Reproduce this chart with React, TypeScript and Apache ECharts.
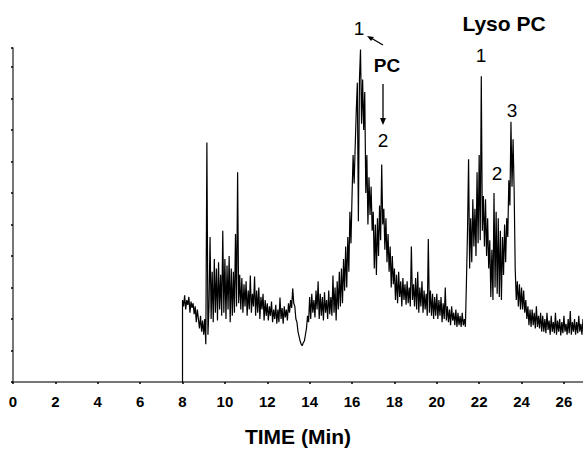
import React, { useEffect, useRef } from "react";
import * as echarts from "echarts";

// Chromatogram trace: intensity (arbitrary units) sampled every 0.05 min from 8.00 min
const TIME_START = 8.0;
const TIME_STEP = 0.05;
const INTENSITY: number[] = [
  // 8.00 - 8.45
  2.6, 2.4, 2.75, 2.3, 2.6, 2.45, 2.7, 2.2, 2.55, 2.35,
  // 8.50 - 8.95
  2.5, 2.15, 2.4, 1.9, 2.3, 2.0, 1.7, 2.1, 1.6, 1.95,
  // 9.00 - 9.45
  1.5, 2.0, 1.2, 7.6, 1.5, 2.4, 4.6, 2.0, 3.5, 1.9,
  // 9.50 - 9.95
  3.9, 2.2, 3.6, 1.95, 3.8, 2.3, 3.4, 2.1, 4.8, 2.2,
  // 10.00 - 10.45
  3.9, 2.0, 3.7, 2.3, 4.0, 1.9, 3.6, 2.1, 3.5, 2.2,
  // 10.50 - 10.95
  4.7, 2.4, 6.66, 2.5, 3.4, 2.3, 3.3, 2.2, 3.1, 2.4,
  // 11.00 - 11.45
  3.2, 2.1, 2.9, 2.3, 3.38, 2.2, 2.8, 2.4, 3.35, 2.1,
  // 11.50 - 11.95
  2.9, 2.2, 3.0, 2.0, 2.7, 2.3, 2.8, 1.95, 2.6, 2.1,
  // 12.00 - 12.45
  2.5, 1.95, 2.4, 2.1, 2.55, 1.9, 2.3, 2.0, 2.45, 1.85,
  // 12.50 - 12.95
  2.3, 1.9, 2.68, 2.0, 2.35, 1.85, 2.4, 2.05, 2.3, 1.95,
  // 13.00 - 13.45
  2.5, 2.2, 2.6, 2.35, 2.97, 2.5, 2.4, 2.0, 1.9, 1.6,
  // 13.50 - 13.95
  1.45, 1.3, 1.2, 1.15, 1.25, 1.3, 1.5, 1.7, 2.1, 1.9,
  // 14.00 - 14.45
  2.7, 2.0, 2.8, 2.2, 2.6, 2.05, 2.9, 2.3, 3.2, 2.0,
  // 14.50 - 14.95
  2.8, 2.1, 2.7, 1.95, 2.85, 2.2, 2.6, 2.0, 2.9, 2.15,
  // 15.00 - 15.45
  2.7, 2.1, 3.38, 2.2, 3.0, 1.95, 3.2, 2.3, 3.5, 2.4,
  // 15.50 - 15.95
  3.6, 2.5, 3.9, 2.9, 4.3, 3.0, 4.6, 3.5, 5.4, 4.4,
  // 16.00 - 16.45
  5.9, 7.2, 6.3, 7.5, 8.6, 9.5, 5.1, 9.6, 10.55, 8.2,
  // 16.50 - 16.95
  9.6, 8.0, 9.2, 6.0, 7.2, 5.0, 6.5, 5.3, 6.2, 4.8,
  // 17.00 - 17.45
  5.4, 3.6, 5.0, 3.4, 5.2, 4.0, 5.6, 4.5, 6.9, 5.0,
  // 17.50 - 17.95
  5.5, 4.2, 5.2, 3.8, 4.7, 3.5, 4.3, 3.0, 4.0, 3.1,
  // 18.00 - 18.45
  3.6, 2.6, 3.4, 2.5, 3.5, 2.7, 3.2, 2.4, 3.3, 2.6,
  // 18.50 - 18.95
  3.1, 2.45, 3.2, 2.5, 3.0, 2.4, 4.3, 2.6, 3.1, 2.4,
  // 19.00 - 19.45
  3.3, 2.3, 3.5, 2.2, 3.0, 2.4, 3.2, 2.2, 2.9, 2.3,
  // 19.50 - 19.95
  2.8, 2.1, 4.54, 2.2, 2.9, 2.1, 2.8, 2.0, 2.7, 2.1,
  // 20.00 - 20.45
  2.8, 2.0, 2.6, 2.1, 2.7, 1.9, 2.5, 2.0, 3.0, 1.95,
  // 20.50 - 20.95
  2.4, 1.9, 2.3, 1.8, 2.4, 1.95, 2.2, 1.8, 2.3, 1.75,
  // 21.00 - 21.45
  2.2, 1.8, 2.1, 1.75, 2.2, 1.8, 2.0, 1.75, 3.2, 4.8,
  // 21.50 - 21.95
  7.07, 3.6, 5.2, 3.8, 5.8, 4.3, 5.5, 4.0, 6.66, 4.4,
  // 22.00 - 22.45
  7.2, 4.5, 9.7, 4.8, 5.9, 4.3, 5.8, 4.0, 5.2, 3.6,
  // 22.50 - 22.95
  4.5, 2.7, 4.2, 2.6, 6.0, 3.0, 5.4, 2.8, 5.2, 2.7,
  // 23.00 - 23.45
  4.8, 2.6, 4.6, 3.4, 5.0, 3.8, 5.2, 4.6, 6.4, 5.6,
  // 23.50 - 23.95
  8.26, 6.2, 7.7, 6.1, 3.6, 2.6, 3.2, 2.4, 3.1, 2.3,
  // 24.00 - 24.45
  3.0, 2.3, 2.9, 2.2, 2.6, 2.0, 2.4, 1.8, 2.3, 1.75,
  // 24.50 - 24.95
  2.3, 1.8, 2.2, 1.7, 2.4, 1.75, 2.1, 1.7, 2.2, 1.6,
  // 25.00 - 25.45
  2.1, 1.6, 2.0, 1.55, 2.2, 1.65, 1.95, 1.5, 2.1, 1.6,
  // 25.50 - 25.95
  1.9, 1.55, 2.2, 1.5, 1.95, 1.6, 2.0, 1.48, 1.9, 1.55,
  // 26.00 - 26.45
  2.1, 1.6, 1.85, 1.5, 2.0, 1.55, 2.25, 1.5, 1.9, 1.6,
  // 26.50 - 26.95
  2.0, 1.5, 1.9, 1.55, 2.1, 1.6, 1.85, 1.5, 2.0, 1.55,
];

const X_TICK_LABELS = ["0", "2", "4", "6", "8", "10", "12", "14", "16", "18", "20", "22", "24", "26"];
const X_MIN = 0;
const X_MAX = 26.9;
const Y_MIN = 0;
const Y_MAX = 10.6;

const FONT = '"Liberation Sans", Arial, sans-serif';

export default function App() {
  const ref = useRef<HTMLDivElement | null>(null);

  useEffect(() => {
    if (!ref.current) return;
    const chart = echarts.init(ref.current, undefined, { renderer: "svg" });

    const data: [number, number][] = [[TIME_START, 0]];
    INTENSITY.forEach((v, i) => {
      const t = Math.round((TIME_START + i * TIME_STEP) * 1000) / 1000;
      data.push([t, v]);
    });

    const axisColor = "#4a4a4a";

    const txt = (x: number, y: number, text: string, size: number, bold: boolean) => ({
      type: "text",
      x,
      y,
      style: {
        text,
        fill: "#000",
        fontSize: size,
        fontWeight: bold ? "bold" : "normal",
        fontFamily: FONT,
        textAlign: "center",
        textVerticalAlign: "middle",
      },
    });

    chart.setOption({
      animation: false,
      backgroundColor: "#fff",
      grid: { left: 13, right: 0, top: 48, bottom: 68, containLabel: false },
      xAxis: {
        type: "value",
        min: X_MIN,
        max: X_MAX,
        interval: 2,
        name: "TIME (Min)",
        nameLocation: "middle",
        nameGap: 44,
        nameTextStyle: { fontSize: 21, fontWeight: "bold", color: "#000", fontFamily: FONT },
        axisLine: { lineStyle: { color: axisColor, width: 1.5 } },
        axisTick: { show: true, length: 2, inside: false, lineStyle: { color: "#000", width: 1.5 } },
        axisLabel: {
          color: "#000",
          fontSize: 15,
          fontWeight: "bold",
          fontFamily: FONT,
          margin: 12,
          showMaxLabel: false,
          formatter: (v: number) => {
            const s = String(v);
            return X_TICK_LABELS.indexOf(s) >= 0 ? s : "";
          },
        },
        splitLine: { show: false },
      },
      yAxis: {
        type: "value",
        min: Y_MIN,
        max: Y_MAX,
        interval: 1,
        axisLine: { show: true, lineStyle: { color: axisColor, width: 1.5 } },
        axisTick: { show: true, length: 2, inside: false, lineStyle: { color: "#000", width: 1.5 } },
        axisLabel: { show: false },
        splitLine: { show: false },
      },
      series: [
        {
          type: "line",
          data,
          showSymbol: false,
          symbol: "none",
          lineStyle: { color: "#000", width: 1.2 },
          clip: true,
        },
      ],
      graphic: [
        txt(359, 28, "1", 19, false),
        {
          type: "line",
          shape: { x1: 383, y1: 45, x2: 371, y2: 38 },
          style: { stroke: "#000", lineWidth: 1.3 },
        },
        {
          type: "polygon",
          shape: { points: [[367, 36], [374, 37], [371, 41]] },
          style: { fill: "#000" },
        },
        txt(387, 65, "PC", 19, true),
        {
          type: "line",
          shape: { x1: 383, y1: 84, x2: 383, y2: 119 },
          style: { stroke: "#000", lineWidth: 1.3 },
        },
        {
          type: "polygon",
          shape: { points: [[380, 118], [386, 118], [383, 125]] },
          style: { fill: "#000" },
        },
        txt(383, 140, "2", 19, false),
        txt(504, 23, "Lyso PC", 21, true),
        txt(481, 55, "1", 19, false),
        txt(497, 173, "2", 19, false),
        txt(512, 110, "3", 19, false),
      ],
    });

    return () => chart.dispose();
  }, []);

  return (
    <div
      ref={ref}
      style={{ position: "fixed", left: 0, top: 0, width: 583, height: 452, background: "#fff" }}
    />
  );
}
